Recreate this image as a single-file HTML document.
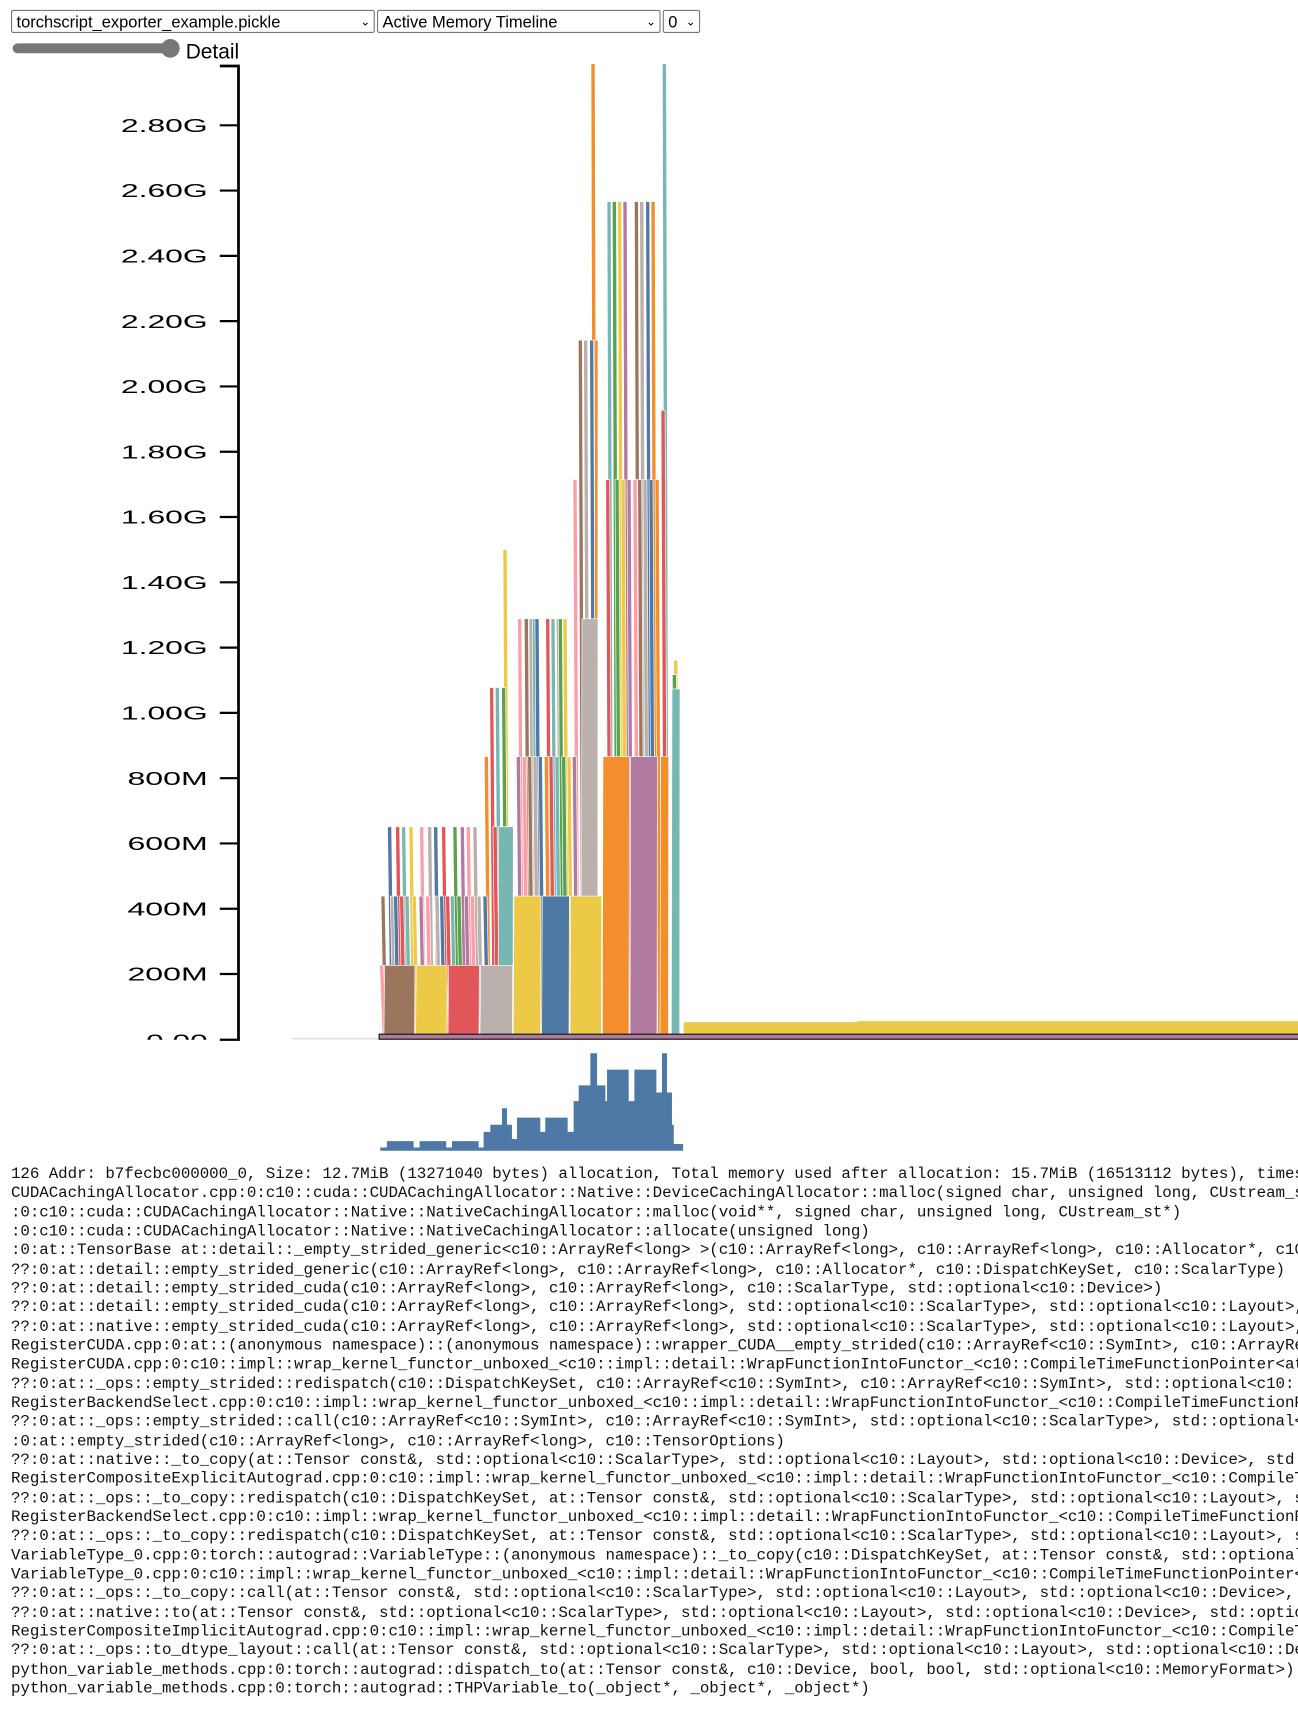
<!DOCTYPE html>
<html><head><meta charset="utf-8"><style>
html,body{margin:0;padding:0;background:#fff;overflow:hidden;width:1298px;height:1724px}
#w{position:absolute;left:0;top:0;width:1181px;height:1569px;transform:scale(1.0991);transform-origin:0 0;overflow:hidden}
.sel{position:absolute;top:9px;height:21px;border:1px solid #767676;border-radius:2px;font:15px "Liberation Sans",sans-serif;line-height:21px;padding-left:4px;box-sizing:border-box;color:#000;background:#fff;white-space:nowrap}
.sel span{position:absolute;right:3px;top:0;font-size:11px}
pre{position:absolute;left:10px;top:1061px;margin:0;font:14.4px/17.33px "Liberation Mono",monospace;letter-spacing:-0.05px;color:#111;white-space:pre}
</style></head><body><div id="w">
<div class="sel" style="left:10px;width:331px">torchscript_exporter_example.pickle<span>&#8964;</span></div>
<div class="sel" style="left:343px;width:258px">Active Memory Timeline<span>&#8964;</span></div>
<div class="sel" style="left:603px;width:34px">0<span>&#8964;</span></div>
<svg width="1181" height="1060" style="position:absolute;left:0;top:0" id="s">
<line x1="16" y1="44" x2="153" y2="44" stroke="#777" stroke-width="9" stroke-linecap="round"/>
<circle cx="155" cy="44" r="8.5" fill="#777"/>
<text x="169" y="53" font-family="Liberation Sans,sans-serif" font-size="19">Detail</text>
<g id="chart"></g>
<g stroke="#000" stroke-width="2.5" fill="none"><path d="M200 60H217V947"/></g>
<g id="ax" font-family="Liberation Sans,sans-serif" font-size="17" text-anchor="end"></g>
</svg>
<pre>126 Addr: b7fecbc000000_0, Size: 12.7MiB (13271040 bytes) allocation, Total memory used after allocation: 15.7MiB (16513112 bytes), timestamp
CUDACachingAllocator.cpp:0:c10::cuda::CUDACachingAllocator::Native::DeviceCachingAllocator::malloc(signed char, unsigned long, CUstream_st*)
:0:c10::cuda::CUDACachingAllocator::Native::NativeCachingAllocator::malloc(void**, signed char, unsigned long, CUstream_st*)
:0:c10::cuda::CUDACachingAllocator::Native::NativeCachingAllocator::allocate(unsigned long)
:0:at::TensorBase at::detail::_empty_strided_generic&lt;c10::ArrayRef&lt;long&gt; &gt;(c10::ArrayRef&lt;long&gt;, c10::ArrayRef&lt;long&gt;, c10::Allocator*, c10::DispatchKeySet
??:0:at::detail::empty_strided_generic(c10::ArrayRef&lt;long&gt;, c10::ArrayRef&lt;long&gt;, c10::Allocator*, c10::DispatchKeySet, c10::ScalarType)
??:0:at::detail::empty_strided_cuda(c10::ArrayRef&lt;long&gt;, c10::ArrayRef&lt;long&gt;, c10::ScalarType, std::optional&lt;c10::Device&gt;)
??:0:at::detail::empty_strided_cuda(c10::ArrayRef&lt;long&gt;, c10::ArrayRef&lt;long&gt;, std::optional&lt;c10::ScalarType&gt;, std::optional&lt;c10::Layout&gt;, std::
??:0:at::native::empty_strided_cuda(c10::ArrayRef&lt;long&gt;, c10::ArrayRef&lt;long&gt;, std::optional&lt;c10::ScalarType&gt;, std::optional&lt;c10::Layout&gt;, std::
RegisterCUDA.cpp:0:at::(anonymous namespace)::(anonymous namespace)::wrapper_CUDA__empty_strided(c10::ArrayRef&lt;c10::SymInt&gt;, c10::ArrayRef&lt;c10
RegisterCUDA.cpp:0:c10::impl::wrap_kernel_functor_unboxed_&lt;c10::impl::detail::WrapFunctionIntoFunctor_&lt;c10::CompileTimeFunctionPointer&lt;at::
??:0:at::_ops::empty_strided::redispatch(c10::DispatchKeySet, c10::ArrayRef&lt;c10::SymInt&gt;, c10::ArrayRef&lt;c10::SymInt&gt;, std::optional&lt;c10::Sc
RegisterBackendSelect.cpp:0:c10::impl::wrap_kernel_functor_unboxed_&lt;c10::impl::detail::WrapFunctionIntoFunctor_&lt;c10::CompileTimeFunctionPoint
??:0:at::_ops::empty_strided::call(c10::ArrayRef&lt;c10::SymInt&gt;, c10::ArrayRef&lt;c10::SymInt&gt;, std::optional&lt;c10::ScalarType&gt;, std::optional&lt;c10
:0:at::empty_strided(c10::ArrayRef&lt;long&gt;, c10::ArrayRef&lt;long&gt;, c10::TensorOptions)
??:0:at::native::_to_copy(at::Tensor const&amp;, std::optional&lt;c10::ScalarType&gt;, std::optional&lt;c10::Layout&gt;, std::optional&lt;c10::Device&gt;, std::opt
RegisterCompositeExplicitAutograd.cpp:0:c10::impl::wrap_kernel_functor_unboxed_&lt;c10::impl::detail::WrapFunctionIntoFunctor_&lt;c10::CompileTime
??:0:at::_ops::_to_copy::redispatch(c10::DispatchKeySet, at::Tensor const&amp;, std::optional&lt;c10::ScalarType&gt;, std::optional&lt;c10::Layout&gt;, std
RegisterBackendSelect.cpp:0:c10::impl::wrap_kernel_functor_unboxed_&lt;c10::impl::detail::WrapFunctionIntoFunctor_&lt;c10::CompileTimeFunctionPoint
??:0:at::_ops::_to_copy::redispatch(c10::DispatchKeySet, at::Tensor const&amp;, std::optional&lt;c10::ScalarType&gt;, std::optional&lt;c10::Layout&gt;, std
VariableType_0.cpp:0:torch::autograd::VariableType::(anonymous namespace)::_to_copy(c10::DispatchKeySet, at::Tensor const&amp;, std::optional&lt;c10
VariableType_0.cpp:0:c10::impl::wrap_kernel_functor_unboxed_&lt;c10::impl::detail::WrapFunctionIntoFunctor_&lt;c10::CompileTimeFunctionPointer&lt;at
??:0:at::_ops::_to_copy::call(at::Tensor const&amp;, std::optional&lt;c10::ScalarType&gt;, std::optional&lt;c10::Layout&gt;, std::optional&lt;c10::Device&gt;, std
??:0:at::native::to(at::Tensor const&amp;, std::optional&lt;c10::ScalarType&gt;, std::optional&lt;c10::Layout&gt;, std::optional&lt;c10::Device&gt;, std::optional
RegisterCompositeImplicitAutograd.cpp:0:c10::impl::wrap_kernel_functor_unboxed_&lt;c10::impl::detail::WrapFunctionIntoFunctor_&lt;c10::CompileTime
??:0:at::_ops::to_dtype_layout::call(at::Tensor const&amp;, std::optional&lt;c10::ScalarType&gt;, std::optional&lt;c10::Layout&gt;, std::optional&lt;c10::Devic
python_variable_methods.cpp:0:torch::autograd::dispatch_to(at::Tensor const&amp;, c10::Device, bool, bool, std::optional&lt;c10::MemoryFormat&gt;)
python_variable_methods.cpp:0:torch::autograd::THPVariable_to(_object*, _object*, _object*)</pre>
</div>
<script>
var NS="http://www.w3.org/2000/svg";
function el(p,t,a){var e=document.createElementNS(NS,t);for(var k in a)e.setAttribute(k,a[k]);p.appendChild(e);return e;}
var ax=document.getElementById('ax');
var labs=["2.80G","2.60G","2.40G","2.20G","2.00G","1.80G","1.60G","1.40G","1.20G","1.00G","800M","600M","400M","200M"];
for(var i=0;i<labs.length;i++){var y=114+i*59.4;el(ax,'line',{x1:200,x2:217,y1:y,y2:y,stroke:'#000','stroke-width':2});
 var w=labs[i].length==5?79:73;
 var t=el(ax,'text',{x:110+(79-w)+w,y:y+6,textLength:w,lengthAdjust:'spacingAndGlyphs'});t.textContent=labs[i];}
var cp=el(document.getElementById('s'),'clipPath',{id:'cz'});el(cp,'rect',{x:0,y:930,width:300,height:16});
var z=el(ax,'text',{x:189,y:953,'clip-path':'url(#cz)',textLength:56,lengthAdjust:'spacingAndGlyphs'});z.textContent="0.00";
el(ax,'line',{x1:200,x2:217,y1:946,y2:946,stroke:'#000','stroke-width':2});
var C={br:'#9c755f',ye:'#edc948',re:'#e15759',gr:'#bab0ac',bl:'#4e79a7',or:'#f28e2c',pu:'#b07aa1',te:'#76b7b2',gn:'#59a14f',pk:'#ff9da7'};
function X(zx){return 349+(zx-70)*0.3034;}
function Y(zy){return 942-(1395-zy)*0.65;}
var sh=[];
function sp(zx,top,c){sh.push({t:top,c:c,p:[[zx+8,1395],[zx,top],[zx+12,top],[zx+20,1395]]});}
function bk(a,b,top,c){sh.push({t:top,c:c,p:[[a+1,1395],[a+3,top],[b-1,top],[b-2,1395]]});}
sp(58,1297,'pk');sp(62,1200,'br');sp(82,1103,'bl');sp(90,1200,'gr');sp(100,1200,'bl');sp(106,1103,'re');sp(118,1200,'re');sp(124,1103,'te');sp(134,1200,'te');sp(146,1103,'ye');sp(156,1200,'ye');
sp(178,1103,'pk');sp(176,1200,'pu');sp(196,1200,'pk');sp(202,1103,'gr');sp(220,1103,'bl');sp(224,1200,'gr');sp(238,1200,'bl');sp(244,1103,'re');sp(256,1200,'re');
sp(270,1200,'te');sp(278,1103,'gn');sp(290,1200,'gn');sp(300,1103,'pu');sp(312,1200,'pu');sp(318,1103,'pk');sp(330,1200,'pk');sp(338,1103,'gr');sp(350,1200,'gr');sp(368,1200,'bl');
sp(372,1005,'or');sp(388,908,'re');sp(398,1103,'re');sp(405,908,'te');sp(424,908,'gn');sp(428,715,'ye');sp(440,1103,'ye');
sp(468,1005,'pu');sp(472,812,'pk');sp(486,1005,'pk');sp(492,812,'br');sp(506,812,'gr');sp(502,1005,'br');sp(518,1005,'gr');sp(516,812,'te');sp(524,812,'bl');sp(534,1005,'bl');
sp(552,1005,'or');sp(556,812,'re');sp(566,1005,'re');sp(572,812,'te');sp(584,1005,'te');sp(588,812,'gr');sp(594,812,'gn');sp(604,1005,'gn');sp(608,812,'ye');sp(620,1005,'ye');sp(636,1005,'pu');
sp(638,617,'pk');sp(654,422,'br');sp(670,422,'gr');sp(688,422,'bl');sp(692,35,'or');
sp(736,617,'re');sp(740,228,'te');sp(756,228,'gn');sp(764,617,'gn');sp(772,228,'ye');sp(782,617,'ye');sp(788,228,'pu');sp(800,617,'pu');
sp(818,617,'pk');sp(822,228,'br');sp(832,617,'br');sp(838,228,'gr');sp(848,617,'gr');sp(856,228,'bl');sp(866,617,'bl');sp(872,228,'or');sp(884,617,'or');
sp(902,520,'re');sp(906,35,'te');sp(940,870,'ye');sp(936,890,'gn');
bk(70,165,1297,'br');bk(165,262,1297,'ye');bk(262,358,1297,'re');bk(358,458,1297,'gr');bk(412,460,1103,'te');
bk(458,543,1200,'ye');bk(543,628,1200,'bl');bk(628,725,1200,'ye');bk(662,714,812,'gr');bk(700,714,422,'or');
bk(725,808,1005,'or');bk(808,892,1005,'pu');bk(898,926,1005,'or');bk(932,960,910,'te');
sh.sort(function(a,b){return a.t-b.t;});
var g=document.getElementById('chart');
sh.forEach(function(s){el(g,'polygon',{points:s.p.map(function(q){return X(q[0]).toFixed(1)+','+Y(q[1]).toFixed(1);}).join(' '),fill:C[s.c],stroke:'#fff','stroke-width':0.6});});
el(g,'line',{x1:265,x2:345,y1:945,y2:945,stroke:'#e8e0d8','stroke-width':1.5});
el(g,'path',{d:'M622 930H780V929H1181V941H622Z',fill:'#edc948'});
el(g,'rect',{x:345,y:941,width:840,height:4.5,fill:'#b07aa1',stroke:'#222','stroke-width':1.2});
var hs=[[60,80,1552],[80,160,1543],[160,178,1552],[178,258,1543],[258,275,1552],[275,355,1543],[355,370,1552],[370,390,1530],[390,425,1520],[425,440,1497],[440,455,1520],[455,470,1540],[470,540,1510],[540,555,1530],[555,622,1510],[622,640,1530],[640,655,1487],[655,690,1465],[690,710,1420],[710,735,1465],[735,740,1487],[740,805,1443],[805,822,1487],[822,888,1443],[888,905,1475],[905,920,1420],[920,935,1475],[935,940,1520],[940,968,1547]];
var d='M'+X(60).toFixed(1)+' 1047';
hs.forEach(function(h){d+='V'+Y(h[2]).toFixed(1)+'H'+X(h[1]).toFixed(1);});
d+='V1047Z';
el(g,'path',{d:d,fill:'#4e79a7'});
</script>
</body></html>
